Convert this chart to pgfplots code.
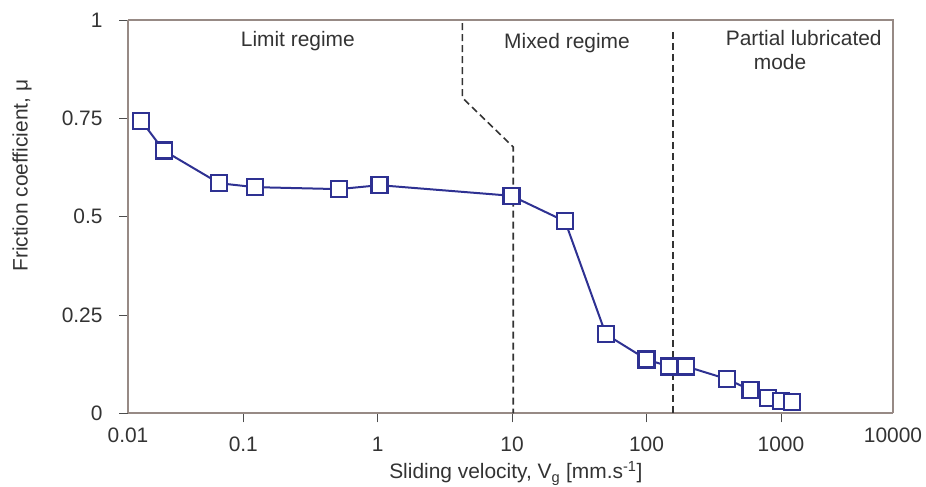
\documentclass[border=0pt]{standalone}
\usepackage{fontspec}
\setmainfont{Liberation Sans}
\usepackage{pgfplots}
\pgfplotsset{compat=1.18}
\definecolor{serblue}{HTML}{2E3192}
\definecolor{framec}{HTML}{978A85}
\definecolor{txt}{HTML}{333333}
\begin{document}
\begin{tikzpicture}
\path[use as bounding box] (0,0) rectangle (926bp,487bp);
\begin{axis}[
  at={(128bp,73.7bp)}, anchor=south west,
  scale only axis, width=765bp, height=393.3bp,
  xmode=log, log basis x=10,
  xmin=0.01387, xmax=6823, ymin=0, ymax=1,
  xtick={0.1,1,10,100,1000}, xticklabels={0.1,1,10,100,1000},
  extra x ticks={0.01387,6823}, extra x tick labels={0.01,10000},
  extra x tick style={major tick length=0pt},
  ytick={0,0.25,0.5,0.75,1}, yticklabels={0,0.25,0.5,0.75,1},
  minor tick num=0, log ticks with fixed point,
  axis x line*=bottom, axis y line*=left,
  tick align=outside, major tick length=9bp,
  tick style={color=black!70, line width=0.8bp},
  every tick/.style={color=black!70, line width=0.8bp},
  axis line style={color=framec, line width=2bp, -},
  ticklabel style={font=\fontsize{21}{24}\selectfont, text=txt},
  xticklabel style={yshift=-11bp},
  yticklabel style={xshift=-13bp},
  xlabel={Sliding velocity, V\textsubscript{g} [mm.s\textsuperscript{-1}]},
  ylabel={Friction coefficient, μ},
  label style={font=\fontsize{21}{24}\selectfont, text=txt},
  xlabel style={at={(axis description cs:0.507,-0.167)}, anchor=base},
  ylabel style={at={(axis description cs:-0.1385,0.604)}, anchor=center},
  clip=false,
]
% frame top and right
\draw[framec, line width=2bp] (rel axis cs:0,1) -- (rel axis cs:1,1) -- (rel axis cs:1,0);
% regime boundaries
\addplot[color=txt, line width=1.6bp, dash pattern=on 7bp off 4bp] coordinates {(4.27,0.992) (4.27,0.802) (10.2,0.677) (10.2,0)};
\addplot[color=txt, line width=1.6bp, dash pattern=on 7bp off 4bp] coordinates {(157.8,0.970) (157.8,0)};
% data
\addplot[color=serblue, line width=2bp, mark=square*, mark size=8bp,
  mark options={fill=white, draw=serblue, line width=2.2bp, solid}] coordinates {
(0.0174,0.744) (0.0256,0.668) (0.066,0.585) (0.122,0.575) (0.514,0.570)
(1.03,0.580) (9.9,0.553) (24.8,0.488) (49.8,0.201) (100,0.137)
(147,0.119) (198,0.119) (398,0.087) (594,0.059) (800,0.038)
(1000,0.032) (1206,0.028)};
% annotations
\node[anchor=base, text=txt, font=\fontsize{21}{24}\selectfont] at (axis cs:0.2546,0.932) {Limit regime};
\node[anchor=base, text=txt, font=\fontsize{21}{24}\selectfont] at (axis cs:25.6,0.928) {Mixed regime};
\node[anchor=base, text=txt, font=\fontsize{21}{24}\selectfont] at (axis cs:1479,0.934) {Partial lubricated};
\node[anchor=base, text=txt, font=\fontsize{21}{24}\selectfont] at (axis cs:986,0.873) {mode};
\end{axis}
\end{tikzpicture}
\end{document}
